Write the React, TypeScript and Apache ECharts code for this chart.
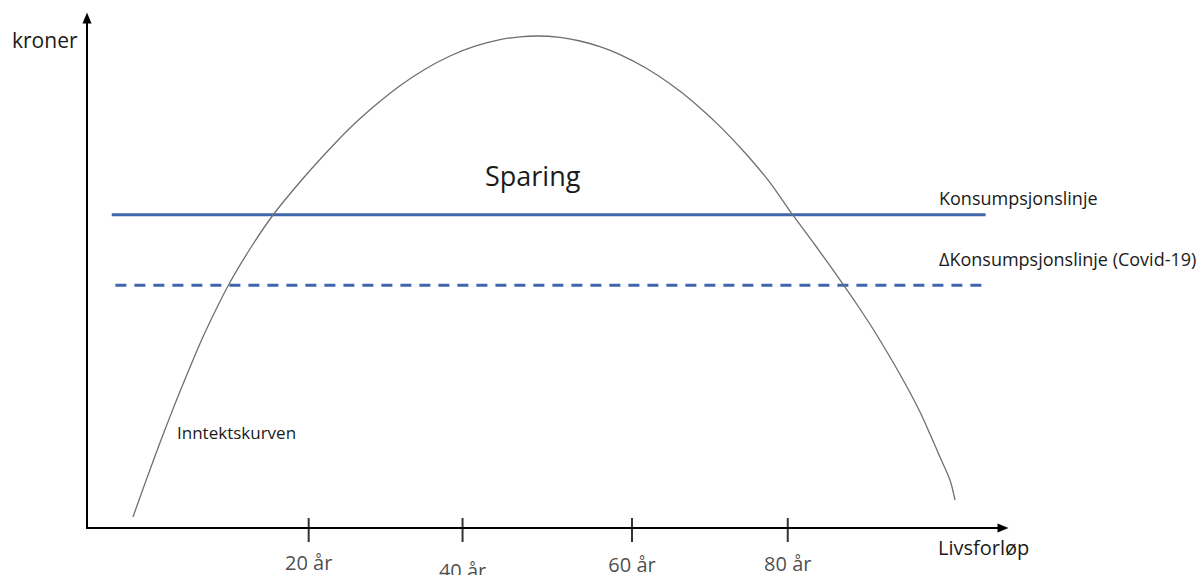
import React, { useEffect, useRef } from "react";
import * as echarts from "echarts";

// Income curve (Inntektskurven): [livsforløp, kroner] in chart units (0-100)
const incomeCurve: [number, number][] = [
  [5.02, 2.16], [6.33, 8.75], [7.75, 15.69], [9.06, 21.84], [10.15, 26.78],
  [11.46, 32.47], [12.88, 38.33], [15.39, 47.45], [17.79, 54.71], [20.31, 61.37],
  [23.25, 67.84], [25.98, 73.33], [28.71, 78.43], [31.44, 82.84], [34.17, 86.73],
  [36.9, 89.96], [39.63, 92.55], [42.36, 94.47], [45.09, 95.76], [47.27, 96.31],
  [49.13, 96.47], [51.64, 96.2], [53.82, 95.49], [56.0, 94.37], [58.19, 92.82],
  [60.92, 90.29], [63.65, 87.1], [66.38, 83.25], [69.1, 78.75], [71.83, 73.57],
  [74.56, 67.73], [76.97, 61.57], [79.48, 55.49], [82.53, 47.84], [84.17, 43.53],
  [85.81, 39.02], [87.66, 33.53], [89.52, 27.65], [90.94, 22.75], [92.03, 18.43],
  [93.12, 13.92], [94.21, 9.41], [94.76, 5.49],
];

// Consumption lines
const consumptionLevel = 61.4;
const covidConsumptionLevel = 47.6;
const lineStartX = 2.7;
const dashedStartX = 3.1;
const lineEndX = 98.1;

// X-axis ticks
const tickPositions = [24.2, 41.0, 59.5, 76.5];
const tickLabels = ["20 år", "40 år", "60 år", "80 år"];

// Texts
const yAxisTitle = "kroner";
const xAxisTitle = "Livsforløp";
const savingText = "Sparing";
const consumptionText = "Konsumpsjonslinje";
const covidText = "ΔKonsumpsjonslinje (Covid-19)";
const incomeText = "Inntektskurven";

// style-only: label drop below each tick mark
const tickLabelDistances = [10, 18, 12, 11];

const FONT = "'Open Sans', 'Noto Sans', sans-serif";
const TEXT_COLOR = "#1a1a1a";
const BLUE = "#4066ac";

export default function App() {
  const ref = useRef<HTMLDivElement>(null);

  useEffect(() => {
    if (!ref.current) return;
    const chart = echarts.init(ref.current, undefined, { renderer: "svg" });

    const txt = (text: string, x: number, y: number, size: number) => ({
      type: "text",
      x,
      y,
      style: {
        text,
        font: `${size}px ${FONT}`,
        fill: TEXT_COLOR,
        align: "left",
        verticalAlign: "middle",
        textAlign: "left",
        textVerticalAlign: "middle",
      },
    });

    chart.setOption({
      animation: false,
      backgroundColor: "#ffffff",
      textStyle: { fontFamily: FONT },
      grid: { left: 87, right: 199, top: 18, bottom: 47, containLabel: false },
      xAxis: {
        type: "value",
        min: 0,
        max: 100,
        axisLine: {
          show: true,
          onZero: false,
          symbol: ["none", "triangle"],
          symbolSize: [9, 11],
          lineStyle: { color: "#000", width: 2 },
        },
        axisTick: { show: false },
        axisLabel: { show: false },
        splitLine: { show: false },
      },
      yAxis: {
        type: "value",
        min: 0,
        max: 100,
        axisLine: {
          show: true,
          onZero: false,
          symbol: ["none", "triangle"],
          symbolSize: [9, 11],
          lineStyle: { color: "#000", width: 2 },
        },
        axisTick: { show: false },
        axisLabel: { show: false },
        splitLine: { show: false },
      },
      series: [
        {
          name: "Inntektskurven",
          type: "line",
          data: incomeCurve,
          smooth: 0.3,
          showSymbol: false,
          symbol: "none",
          lineStyle: { color: "#6f6f6f", width: 1.3 },
          z: 3,
        },
        {
          name: "Konsumpsjonslinje",
          type: "line",
          data: [
            [lineStartX, consumptionLevel],
            [lineEndX, consumptionLevel],
          ],
          showSymbol: false,
          symbol: "none",
          lineStyle: { color: BLUE, width: 3 },
          z: 2,
        },
        {
          name: "ΔKonsumpsjonslinje",
          type: "line",
          data: [
            [dashedStartX, covidConsumptionLevel],
            [lineEndX, covidConsumptionLevel],
          ],
          showSymbol: false,
          symbol: "none",
          lineStyle: { color: BLUE, width: 3, type: [11, 8] },
          z: 2,
        },
        {
          name: "ticks",
          type: "scatter",
          clip: false,
          symbol: "rect",
          symbolSize: [2, 24],
          symbolOffset: [0, 2],
          itemStyle: { color: "#000" },
          data: tickPositions.map((x, i) => ({
            value: [x, 0],
            label: {
              show: true,
              position: "bottom",
              distance: tickLabelDistances[i],
              formatter: tickLabels[i],
              fontSize: 20,
              fontFamily: FONT,
              color: TEXT_COLOR,
            },
          })),
          z: 5,
        },
      ],
      graphic: [
        txt(yAxisTitle, 12, 40, 21),
        txt(savingText, 485, 175, 27),
        txt(consumptionText, 939, 198, 18),
        txt(covidText, 939, 259, 18),
        txt(incomeText, 177, 432, 17),
        txt(xAxisTitle, 938, 547, 20),
      ],
    });

    return () => chart.dispose();
  }, []);

  return <div ref={ref} style={{ width: 1202, height: 575, position: "absolute", left: 0, top: 0 }} />;
}
